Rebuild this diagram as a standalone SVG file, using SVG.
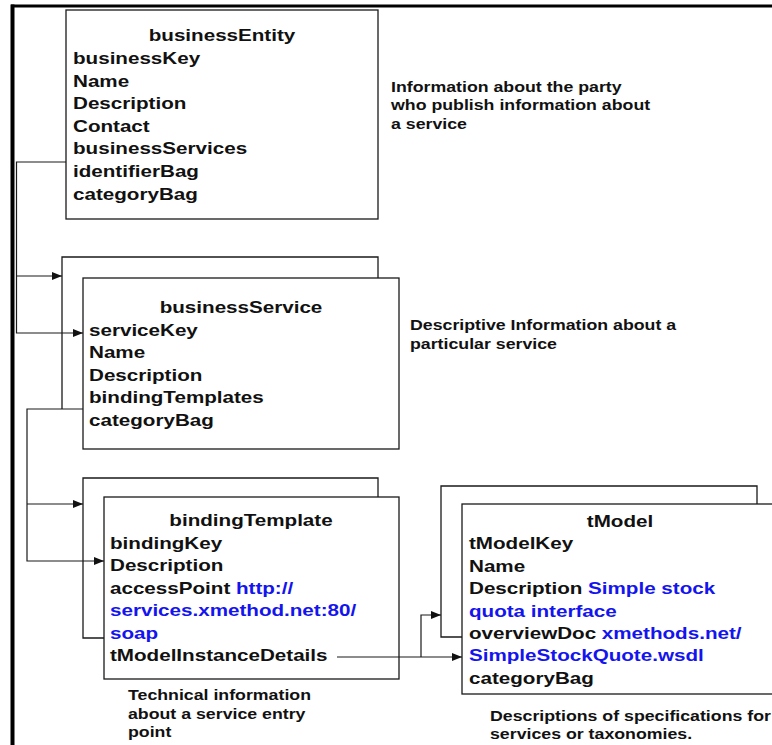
<svg xmlns="http://www.w3.org/2000/svg" width="772" height="745" viewBox="0 0 772 745">
<style>
.box{fill:#fff;stroke:#1a1a1a;stroke-width:1.3}
.con{fill:none;stroke:#1a1a1a;stroke-width:1.2}
text{font-family:"Liberation Sans",Arial,sans-serif;font-weight:bold;fill:#111}
.t{font-size:16.5px}
.d{font-size:14.2px}
.c{text-anchor:middle}
.b{fill:#1414ee}
</style>
<defs>
<marker id="ah" viewBox="0 0 10 8" refX="10" refY="4" markerWidth="11" markerHeight="8" markerUnits="userSpaceOnUse" orient="auto">
<path d="M0,0 L10,4 L0,8 z" fill="#111"/>
</marker>
</defs>
<rect width="772" height="745" fill="#fff"/>
<g id="frame">
<line x1="12.5" y1="4.5" x2="12.5" y2="745" stroke="#000" stroke-width="4"/>
<line x1="11" y1="6" x2="772" y2="6" stroke="#000" stroke-width="3"/>
</g>
<g id="businessEntity">
<rect class="box" x="66" y="10" width="312" height="209"/>
<text class="t c" transform="translate(222,41.3) scale(1.25,1)">businessEntity</text>
<text class="t" transform="translate(73,63.9) scale(1.25,1)">businessKey</text>
<text class="t" transform="translate(73,86.5) scale(1.25,1)">Name</text>
<text class="t" transform="translate(73,109.1) scale(1.25,1)">Description</text>
<text class="t" transform="translate(73,131.7) scale(1.25,1)">Contact</text>
<text class="t" transform="translate(73,154.3) scale(1.25,1)">businessServices</text>
<text class="t" transform="translate(73,176.9) scale(1.25,1)">identifierBag</text>
<text class="t" transform="translate(73,199.5) scale(1.25,1)">categoryBag</text>
</g>
<g id="businessEntity-note">
<text class="d" transform="translate(391,91.5) scale(1.25,1)">Information about the party</text>
<text class="d" transform="translate(391,110) scale(1.25,1)">who publish information about</text>
<text class="d" transform="translate(391,128.5) scale(1.25,1)">a service</text>
</g>
<g id="businessService">
<path class="box" d="M62,409 V257 H378 V278"/>
<rect class="box" x="83" y="278" width="316" height="171"/>
<text class="t c" transform="translate(241,313) scale(1.25,1)">businessService</text>
<text class="t" transform="translate(89,335.6) scale(1.25,1)">serviceKey</text>
<text class="t" transform="translate(89,358.2) scale(1.25,1)">Name</text>
<text class="t" transform="translate(89,380.8) scale(1.25,1)">Description</text>
<text class="t" transform="translate(89,403.4) scale(1.25,1)">bindingTemplates</text>
<text class="t" transform="translate(89,426) scale(1.25,1)">categoryBag</text>
</g>
<g id="businessService-note">
<text class="d" transform="translate(410,330) scale(1.25,1)">Descriptive Information about a</text>
<text class="d" transform="translate(410,348.5) scale(1.25,1)">particular service</text>
</g>
<g id="bindingTemplate">
<path class="box" d="M104,638 H83 V478 H378 V497"/>
<rect class="box" x="104" y="497" width="295" height="182"/>
<text class="t c" transform="translate(251,526) scale(1.25,1)">bindingTemplate</text>
<text class="t" transform="translate(110,548.5) scale(1.25,1)">bindingKey</text>
<text class="t" transform="translate(110,571) scale(1.25,1)">Description</text>
<text class="t" transform="translate(110,593.5) scale(1.25,1)">accessPoint <tspan class="b">http://</tspan></text>
<text class="t b" transform="translate(110,616) scale(1.25,1)">services.xmethod.net:80/</text>
<text class="t b" transform="translate(110,638.5) scale(1.25,1)">soap</text>
<text class="t" transform="translate(110,661) scale(1.25,1)">tModelInstanceDetails</text>
</g>
<g id="bindingTemplate-note">
<text class="d" transform="translate(128,700) scale(1.25,1)">Technical information</text>
<text class="d" transform="translate(128,718.5) scale(1.25,1)">about a service entry</text>
<text class="d" transform="translate(128,737) scale(1.25,1)">point</text>
</g>
<g id="tModel">
<path class="box" d="M462,637 H441 V486 H757 V504"/>
<rect class="box" x="462" y="504" width="330" height="190"/>
<text class="t c" transform="translate(620,527) scale(1.25,1)">tModel</text>
<text class="t" transform="translate(469,549.4) scale(1.25,1)">tModelKey</text>
<text class="t" transform="translate(469,571.8) scale(1.25,1)">Name</text>
<text class="t" transform="translate(469,594.2) scale(1.25,1)">Description <tspan class="b">Simple stock</tspan></text>
<text class="t b" transform="translate(469,616.6) scale(1.25,1)">quota interface</text>
<text class="t" transform="translate(469,639) scale(1.25,1)">overviewDoc <tspan class="b">xmethods.net/</tspan></text>
<text class="t b" transform="translate(469,661.4) scale(1.25,1)">SimpleStockQuote.wsdl</text>
<text class="t" transform="translate(469,683.8) scale(1.25,1)">categoryBag</text>
</g>
<g id="tModel-note">
<text class="d" transform="translate(490,720.5) scale(1.25,1)">Descriptions of specifications for</text>
<text class="d" transform="translate(490,738.5) scale(1.25,1)">services or taxonomies.</text>
</g>
<g id="connectors">
<path class="con" d="M66,162 H16.5 V333 H83" marker-end="url(#ah)"/>
<path class="con" d="M16.5,276 H62" marker-end="url(#ah)"/>
<path class="con" d="M83,409 H27 V561 H104" marker-end="url(#ah)"/>
<path class="con" d="M27,504 H83" marker-end="url(#ah)"/>
<path class="con" d="M337,657 H462" marker-end="url(#ah)"/>
<path class="con" d="M421,657 V615 H441" marker-end="url(#ah)"/>
</g>
</svg>
